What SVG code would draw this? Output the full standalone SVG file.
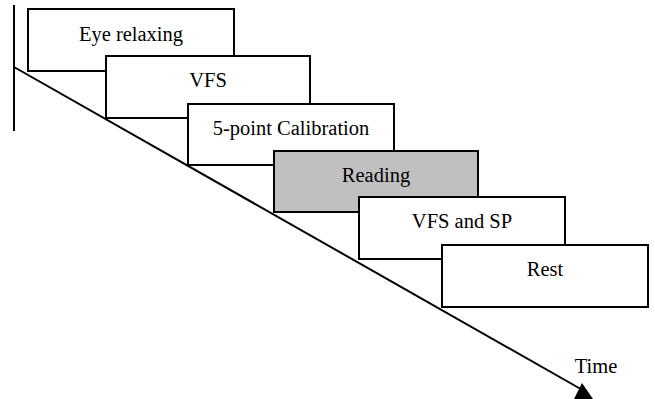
<svg xmlns="http://www.w3.org/2000/svg" width="655" height="399" viewBox="0 0 655 399">
<style>
.box{fill:#fff;stroke:#000;stroke-width:2}
.gray{fill:#c0c0c0}
.t{font-family:"Liberation Serif","Times New Roman",serif;font-size:20.5px;fill:#000;text-anchor:middle}
.ln{stroke:#000;stroke-width:2;fill:none}
</style>
<rect width="655" height="399" fill="#fff"/>
<g id="connectors">
<line class="ln" x1="14" y1="5" x2="14" y2="131"/>
<line class="ln" x1="14" y1="67" x2="586" y2="392"/>
<path d="M582,383 L593,399 L574,399 Z" fill="#000"/>
</g>
<g id="eye-relaxing"><rect class="box" x="28" y="9" width="206" height="62"/><text class="t" x="131" y="41">Eye relaxing</text></g>
<g id="vfs"><rect class="box" x="106" y="56" width="204" height="62"/><text class="t" x="208" y="87">VFS</text></g>
<g id="calibration"><rect class="box" x="188" y="104" width="206" height="61"/><text class="t" x="291" y="135">5-point Calibration</text></g>
<g id="reading"><rect class="box gray" x="274" y="151" width="204" height="61"/><text class="t" x="376" y="182">Reading</text></g>
<g id="vfs-sp"><rect class="box" x="359" y="197" width="206" height="62"/><text class="t" x="462" y="228">VFS and SP</text></g>
<g id="rest"><rect class="box" x="442" y="245" width="206" height="62"/><text class="t" x="545" y="276">Rest</text></g>
<text class="t" x="596" y="373">Time</text>
</svg>
